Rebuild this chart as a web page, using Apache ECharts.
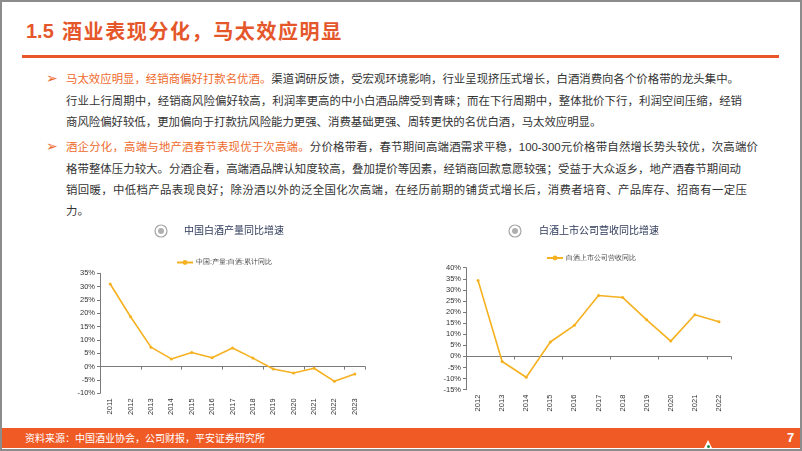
<!DOCTYPE html>
<html><head><meta charset="utf-8">
<script src="https://cdn.jsdelivr.net/npm/echarts@6/dist/echarts.min.js"></script>
<style>
html,body{margin:0;padding:0;}
body{width:802px;height:451px;position:relative;overflow:hidden;background:#fff;font-family:"Noto Sans CJK SC",sans-serif;}
#frame{position:absolute;left:0;top:0;width:802px;height:451px;box-sizing:border-box;border:2px solid #8c8c8c;}
.t1{position:absolute;left:26px;top:21px;font:bold 20px/20px "Liberation Sans",Arial,sans-serif;color:#E5572B;}
.t2{position:absolute;left:62px;top:21px;font:bold 20px/20px "Noto Sans CJK SC";letter-spacing:1.6px;color:#E5572B;}
#rule{position:absolute;left:22px;top:55px;width:757px;height:2.5px;background:#E8562A;}
.bul{position:absolute;left:46px;font:14px/16px "DejaVu Sans";color:#EE6A2C;}
.ln{position:absolute;left:66px;font-size:11.4px;line-height:16px;color:#333;white-space:nowrap;}
.j{text-align:justify;text-align-last:justify;white-space:normal;}
.hl{color:#EE6A2C;}
#chart{position:absolute;left:0;top:215px;width:802px;height:215px;}
#foot{position:absolute;left:2px;top:428px;width:798px;height:20px;background:#F05A24;}
#foot .src{position:absolute;left:23px;top:0;font-size:10px;line-height:20px;color:#fff;}
#foot .pg{position:absolute;left:785px;top:0;font:bold 13px/20px "Liberation Sans",Arial;color:#fff;}
#logo{position:absolute;left:704px;top:440px;width:0;height:0;border-left:4px solid transparent;border-right:4px solid transparent;border-bottom:8px solid #fff;}
#logo2{position:absolute;left:706.5px;top:445px;width:3px;height:3px;background:#1e8a4a;border-radius:50%;}
</style></head>
<body>
<div id="frame"></div>
<div class="t1">1.5</div>
<div class="t2">酒业表现分化，马太效应明显</div>
<div id="rule"></div>

<div class="bul" style="top:70px">➢</div>
<div class="ln j" style="top:70px;width:673px"><span class="hl">马太效应明显，经销商偏好打款名优酒。</span>渠道调研反馈，受宏观环境影响，行业呈现挤压式增长，白酒消费向各个价格带的龙头集中。</div>
<div class="ln j" style="top:91.5px;width:676px">行业上行周期中，经销商风险偏好较高，利润率更高的中小白酒品牌受到青睐；而在下行周期中，整体批价下行，利润空间压缩，经销</div>
<div class="ln" style="top:113px">商风险偏好较低，更加偏向于打款抗风险能力更强、消费基础更强、周转更快的名优白酒，马太效应明显。</div>

<div class="bul" style="top:138px">➢</div>
<div class="ln j" style="top:138px;width:692px"><span class="hl">酒企分化，高端与地产酒春节表现优于次高端。</span>分价格带看，春节期间高端酒需求平稳，<span style="font-family:'Liberation Sans',Arial">100-300</span>元价格带自然增长势头较优，次高端价</div>
<div class="ln j" style="top:159.5px;width:675px">格带整体压力较大。分酒企看，高端酒品牌认知度较高，叠加提价等因素，经销商回款意愿较强；受益于大众返乡，地产酒春节期间动</div>
<div class="ln j" style="top:181px;width:681px">销回暖，中低档产品表现良好；除汾酒以外的泛全国化次高端，在经历前期的铺货式增长后，消费者培育、产品库存、招商有一定压</div>
<div class="ln" style="top:201.5px">力。</div>

<div id="chart"></div>

<div id="foot"><div class="src">资料来源：中国酒业协会，公司财报，平安证券研究所</div><div class="pg">7</div></div>
<div id="logo"></div><div id="logo2"></div>

<script>
// ---- data ----
const title1 = '中国白酒产量同比增速';
const title2 = '白酒上市公司营收同比增速';
const seriesName1 = '中国:产量:白酒:累计同比';
const seriesName2 = '白酒上市公司营收同比';
const years1 = ['2011','2012','2013','2014','2015','2016','2017','2018','2019','2020','2021','2022','2023'];
const output = [31.0, 18.7, 7.3, 2.9, 5.3, 3.3, 7.0, 3.2, -0.9, -2.4, -0.6, -5.5, -2.8];
const years2 = ['2012','2013','2014','2015','2016','2017','2018','2019','2020','2021','2022'];
const revenue = [34.2, -2.3, -9.4, 6.5, 14.0, 27.5, 26.6, 16.5, 6.9, 18.8, 15.6];
const yRange1 = [-10, 35];
const yRange2 = [-15, 40];
const yStep = 5;

const lineColor = '#F5B120';
const axisColor = '#7a7a7a';
const labelColor = '#333';

function xPair(gridIndex, cats) {
  return [
    { type:'category', gridIndex, data:cats, boundaryGap:true, position:'bottom',
      axisLine:{ onZero:true, lineStyle:{ color:axisColor, width:1 } },
      axisTick:{ show:true, length:3, lineStyle:{ color:axisColor } },
      axisLabel:{ show:false } },
    { type:'category', gridIndex, data:cats, boundaryGap:true, position:'bottom',
      axisLine:{ show:false, onZero:false }, axisTick:{ show:false },
      axisLabel:{ rotate:90, fontSize:7.5, color:labelColor, margin:5, fontFamily:'Liberation Sans' } }
  ];
}
function yAx(gridIndex, r) {
  return { type:'value', gridIndex, min:r[0], max:r[1], interval:yStep,
    axisLine:{ show:true, lineStyle:{ color:axisColor } },
    axisTick:{ show:true, length:3, lineStyle:{ color:axisColor } },
    splitLine:{ show:false },
    axisLabel:{ formatter:'{value}%', fontSize:7.5, color:labelColor, margin:5, fontFamily:'Liberation Sans' } };
}

const chart = echarts.init(document.getElementById('chart'), null, { renderer:'canvas' });
chart.setOption({
  animation:false,
  title:[
    { text:title1, left:184, top:10, padding:0, textStyle:{ fontSize:10, fontWeight:'normal', color:'#2E3A59', fontFamily:'Noto Sans CJK SC' } },
    { text:title2, left:539, top:10, padding:0, textStyle:{ fontSize:10, fontWeight:'normal', color:'#2E3A59', fontFamily:'Noto Sans CJK SC' } }
  ],
  graphic:[
    { type:'circle', shape:{ cx:161, cy:16, r:6 }, style:{ fill:'#fff', stroke:'#a5a5a5', lineWidth:1.2 } },
    { type:'circle', shape:{ cx:161, cy:16, r:3 }, style:{ fill:'#b0b0b0' } },
    { type:'circle', shape:{ cx:515, cy:16, r:6 }, style:{ fill:'#fff', stroke:'#a5a5a5', lineWidth:1.2 } },
    { type:'circle', shape:{ cx:515, cy:16, r:3 }, style:{ fill:'#b0b0b0' } }
  ],
  legend:[
    { data:[seriesName1], left:176, top:44, padding:0, itemWidth:16, itemHeight:6, itemGap:2,
      textStyle:{ fontSize:7, color:'#444', padding:[0,0,0,-2] } },
    { data:[seriesName2], left:546, top:39.5, padding:0, itemWidth:16, itemHeight:6, itemGap:2,
      textStyle:{ fontSize:7, color:'#444', padding:[0,0,0,-2] } }
  ],
  grid:[
    { left:100, top:58.3, width:265, height:120 },
    { left:466, top:52.7, width:265, height:122 }
  ],
  xAxis:[ ...xPair(0, years1), ...xPair(1, years2) ],
  yAxis:[ yAx(0, yRange1), yAx(1, yRange2) ],
  series:[
    { name:seriesName1, type:'line', xAxisIndex:0, yAxisIndex:0, data:output,
      symbol:'circle', symbolSize:3, itemStyle:{ color:lineColor }, lineStyle:{ color:lineColor, width:1.6 } },
    { name:seriesName2, type:'line', xAxisIndex:2, yAxisIndex:1, data:revenue,
      symbol:'circle', symbolSize:3, itemStyle:{ color:lineColor }, lineStyle:{ color:lineColor, width:1.6 } }
  ]
});
</script>
</body></html>
